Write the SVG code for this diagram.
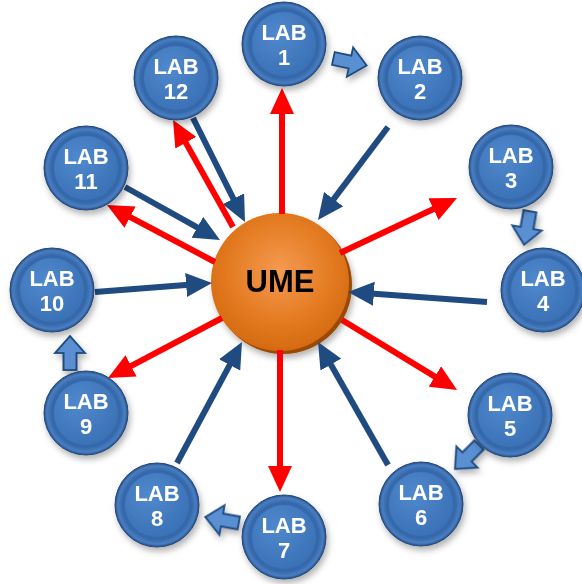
<svg xmlns="http://www.w3.org/2000/svg" xmlns:xlink="http://www.w3.org/1999/xlink" width="582" height="584" viewBox="0 0 582 584">
<style>
.lab-t{font-family:"Liberation Sans",Arial,sans-serif;font-weight:bold;font-size:22px;fill:#ffffff;text-anchor:middle}
.ume-t{font-family:"Liberation Sans",Arial,sans-serif;font-weight:bold;font-size:31px;fill:#000000;text-anchor:middle}
.red{stroke:#ff0000;stroke-width:6;fill:none;marker-end:url(#ahRed)}
.blue{stroke:#1f4b80;stroke-width:6;fill:none;marker-end:url(#ahBlue)}
.outer{fill:url(#gOuter);stroke:#21467a;stroke-width:1}
.inner{fill:url(#gInner)}
.blk{fill:#5a8fd2;stroke:#1f4b80;stroke-width:1.8;stroke-linejoin:miter}
</style>
<defs>
<radialGradient id="gOuter" cx="0.5" cy="0.5" r="0.5">
<stop offset="0" stop-color="#3f76bb"/>
<stop offset="0.82" stop-color="#3468ab"/>
<stop offset="0.93" stop-color="#4a7ec0"/>
<stop offset="1" stop-color="#24508a"/>
</radialGradient>
<radialGradient id="gInner" cx="0.4" cy="0.35" r="0.7">
<stop offset="0" stop-color="#5089cd"/>
<stop offset="1" stop-color="#3a70b5"/>
</radialGradient>
<radialGradient id="gUme" cx="0.5" cy="0.42" r="0.58">
<stop offset="0" stop-color="#f49a52"/>
<stop offset="0.6" stop-color="#e57d24"/>
<stop offset="1" stop-color="#d56a10"/>
</radialGradient>
<filter id="sh" x="-30%" y="-30%" width="160%" height="160%">
<feDropShadow dx="2" dy="4" stdDeviation="3" flood-color="#000" flood-opacity="0.3"/>
</filter>
<marker id="ahRed" markerUnits="userSpaceOnUse" markerWidth="26" markerHeight="24" viewBox="0 0 26 24" refX="3" refY="12" orient="auto">
<path d="M0,0 L26,12 L0,24 Z" fill="#ff0000"/>
</marker>
<marker id="ahBlue" markerUnits="userSpaceOnUse" markerWidth="26" markerHeight="24" viewBox="0 0 26 24" refX="3" refY="12" orient="auto">
<path d="M0,0 L26,12 L0,24 Z" fill="#1f4b80"/>
</marker>
<path id="blkShape" class="blk" d="M-17,-6.5 L0,-6.5 L0,-15 L17,0 L0,15 L0,6.5 L-17,6.5 Z"/>
</defs>

<g id="UME" filter="url(#sh)">
<circle cx="283" cy="285" r="69" fill="#9a4a06"/>
<circle cx="280" cy="282" r="69" fill="url(#gUme)"/>
<text class="ume-t" x="280" y="292">UME</text>
</g>

<g id="connectors">
<line class="red" x1="282" y1="214" x2="282" y2="111"/>
<line class="blue" x1="388" y1="127" x2="331.8" y2="201.6"/>
<line class="red" x1="340" y1="253" x2="436.2" y2="207.8"/>
<line class="blue" x1="487" y1="302" x2="370.9" y2="293.6"/>
<line class="red" x1="342" y1="320" x2="437.4" y2="378.1"/>
<line class="blue" x1="388" y1="465" x2="329.4" y2="362"/>
<line class="red" x1="280" y1="350" x2="280" y2="469"/>
<line class="blue" x1="177" y1="463" x2="231.1" y2="362.3"/>
<line class="red" x1="222" y1="318" x2="128.4" y2="367.3"/>
<line class="blue" x1="95" y1="292" x2="189.1" y2="284.8"/>
<line class="blue" x1="125" y1="187" x2="199.9" y2="228.8"/>
<line class="red" x1="215" y1="262" x2="127.4" y2="215.7"/>
<line class="blue" x1="193" y1="118" x2="234.7" y2="201.4"/>
<line class="red" x1="233" y1="227" x2="184.3" y2="140.1"/>
</g>

<g id="flow-arrows" filter="url(#sh)">
<use xlink:href="#blkShape" transform="translate(350,62) rotate(12)"/>
<use xlink:href="#blkShape" transform="translate(527,228) rotate(100)"/>
<use xlink:href="#blkShape" transform="translate(467,457) rotate(135)"/>
<use xlink:href="#blkShape" transform="translate(222,520) rotate(190)"/>
<use xlink:href="#blkShape" transform="translate(70,353) rotate(270)"/>
</g>

<g id="LAB1" filter="url(#sh)"><circle class="outer" cx="284" cy="44" r="42"/><circle class="inner" cx="284" cy="44" r="32"/><text class="lab-t" x="284" y="40">LAB</text><text class="lab-t" x="284" y="65">1</text></g>
<g id="LAB2" filter="url(#sh)"><circle class="outer" cx="420" cy="78" r="42"/><circle class="inner" cx="420" cy="78" r="32"/><text class="lab-t" x="420" y="74">LAB</text><text class="lab-t" x="420" y="99">2</text></g>
<g id="LAB3" filter="url(#sh)"><circle class="outer" cx="511" cy="167" r="42"/><circle class="inner" cx="511" cy="167" r="32"/><text class="lab-t" x="511" y="163">LAB</text><text class="lab-t" x="511" y="188">3</text></g>
<g id="LAB4" filter="url(#sh)"><circle class="outer" cx="543" cy="290" r="42"/><circle class="inner" cx="543" cy="290" r="32"/><text class="lab-t" x="543" y="286">LAB</text><text class="lab-t" x="543" y="311">4</text></g>
<g id="LAB5" filter="url(#sh)"><circle class="outer" cx="510" cy="415" r="42"/><circle class="inner" cx="510" cy="415" r="32"/><text class="lab-t" x="510" y="411">LAB</text><text class="lab-t" x="510" y="436">5</text></g>
<g id="LAB6" filter="url(#sh)"><circle class="outer" cx="421" cy="504" r="42"/><circle class="inner" cx="421" cy="504" r="32"/><text class="lab-t" x="421" y="500">LAB</text><text class="lab-t" x="421" y="525">6</text></g>
<g id="LAB7" filter="url(#sh)"><circle class="outer" cx="284" cy="537" r="42"/><circle class="inner" cx="284" cy="537" r="32"/><text class="lab-t" x="284" y="533">LAB</text><text class="lab-t" x="284" y="558">7</text></g>
<g id="LAB8" filter="url(#sh)"><circle class="outer" cx="157" cy="505" r="42"/><circle class="inner" cx="157" cy="505" r="32"/><text class="lab-t" x="157" y="501">LAB</text><text class="lab-t" x="157" y="526">8</text></g>
<g id="LAB9" filter="url(#sh)"><circle class="outer" cx="86" cy="413" r="42"/><circle class="inner" cx="86" cy="413" r="32"/><text class="lab-t" x="86" y="409">LAB</text><text class="lab-t" x="86" y="434">9</text></g>
<g id="LAB10" filter="url(#sh)"><circle class="outer" cx="52" cy="290" r="42"/><circle class="inner" cx="52" cy="290" r="32"/><text class="lab-t" x="52" y="286">LAB</text><text class="lab-t" x="52" y="311">10</text></g>
<g id="LAB11" filter="url(#sh)"><circle class="outer" cx="86" cy="168" r="42"/><circle class="inner" cx="86" cy="168" r="32"/><text class="lab-t" x="86" y="164">LAB</text><text class="lab-t" x="86" y="189">11</text></g>
<g id="LAB12" filter="url(#sh)"><circle class="outer" cx="176" cy="78" r="42"/><circle class="inner" cx="176" cy="78" r="32"/><text class="lab-t" x="176" y="74">LAB</text><text class="lab-t" x="176" y="99">12</text></g>
</svg>
